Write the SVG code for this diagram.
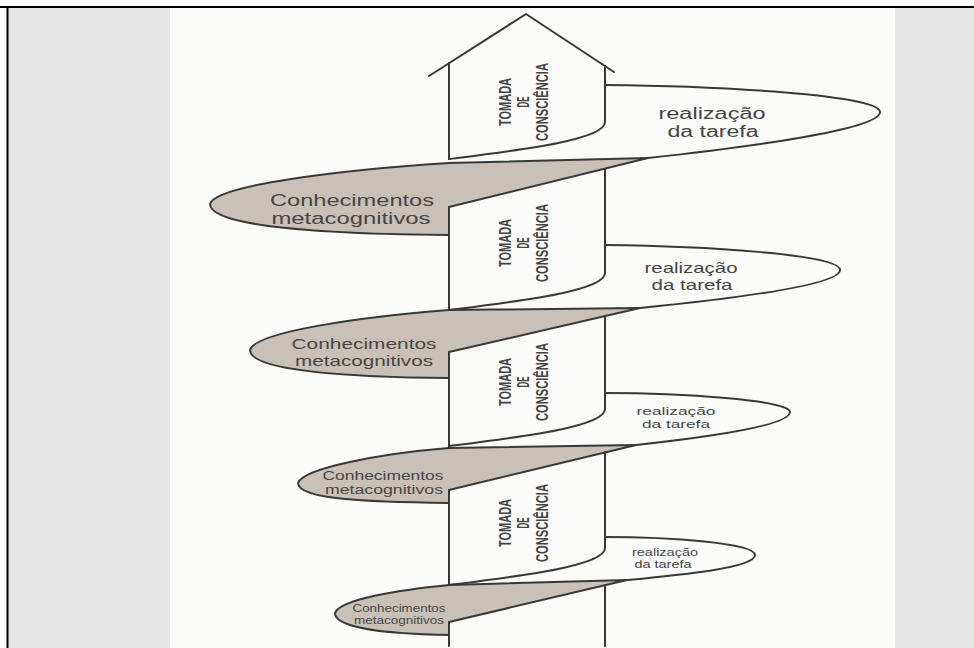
<svg xmlns="http://www.w3.org/2000/svg" width="974" height="648" viewBox="0 0 974 648">
<style>
.ln{fill:none;stroke:#383838;stroke-width:2;stroke-linejoin:round;stroke-linecap:round}
.gr{fill:#c9c1b7;stroke:#383838;stroke-width:2;stroke-linejoin:round}
.tc{font-family:"Liberation Sans",Arial,sans-serif;font-size:16px;font-weight:bold;fill:#444;text-anchor:middle}
.lb{font-family:"Liberation Sans",Arial,sans-serif;fill:#454545;text-anchor:middle}
</style>
<rect width="974" height="648" fill="#ffffff"/>
<rect x="8" y="8" width="162" height="640" fill="#e5e5e5"/>
<rect x="170" y="8" width="725" height="640" fill="#fbfbf9"/>
<rect x="895" y="8" width="79" height="640" fill="#e5e5e5"/>
<line x1="0" y1="7" x2="974" y2="7" stroke="#000" stroke-width="2"/>
<line x1="7.5" y1="6" x2="7.5" y2="648" stroke="#000" stroke-width="2"/>

<g id="meta-1">
<path class="gr" d="M648,158 L449,163 C341,170 215,185 210,204 C210,226 320,234 449,235 L449,207 Z"/>
<text class="lb" font-size="16" x="352" y="206" textLength="164" lengthAdjust="spacingAndGlyphs">Conhecimentos</text>
<text class="lb" font-size="16" x="351" y="224" textLength="159" lengthAdjust="spacingAndGlyphs">metacognitivos</text>
</g>
<g id="meta-2">
<path class="gr" d="M640,308 L449,310 C359,317 255,332 250,350 C250,370 341,377 449,378 L449,352 Z"/>
<text class="lb" font-size="15" x="364" y="349" textLength="145" lengthAdjust="spacingAndGlyphs">Conhecimentos</text>
<text class="lb" font-size="15" x="364" y="366" textLength="138" lengthAdjust="spacingAndGlyphs">metacognitivos</text>
</g>
<g id="meta-3">
<path class="gr" d="M636,445 L449,448 C381,453.5 303,468 298,483 C298,499.5 367,502 449,503 L449,490 Z"/>
<text class="lb" font-size="12" x="383" y="480" textLength="121" lengthAdjust="spacingAndGlyphs">Conhecimentos</text>
<text class="lb" font-size="12" x="384" y="494" textLength="118" lengthAdjust="spacingAndGlyphs">metacognitivos</text>
</g>
<g id="meta-4">
<path class="gr" d="M627,580 L449,585 C398,590 340,599.5 335,613 C335,628 387,634 449,635 L449,622 Z"/>
<text class="lb" font-size="10.5" x="399" y="612" textLength="93" lengthAdjust="spacingAndGlyphs">Conhecimentos</text>
<text class="lb" font-size="10.5" x="399" y="624" textLength="90" lengthAdjust="spacingAndGlyphs">metacognitivos</text>
</g>

<g id="tarefa-1">
<path class="ln" d="M605,85 C720,86 880,95 880,112 C880,130 740,148 648,158"/>
<text class="lb" font-size="16" x="712" y="119" textLength="107" lengthAdjust="spacingAndGlyphs">realização</text>
<text class="lb" font-size="16" x="713" y="137" textLength="91" lengthAdjust="spacingAndGlyphs">da tarefa</text>
</g>
<g id="tarefa-2">
<path class="ln" d="M605,245 C700,246 840,254 840,270 C840,286 720,300 640,308"/>
<text class="lb" font-size="15" x="691" y="273" textLength="93" lengthAdjust="spacingAndGlyphs">realização</text>
<text class="lb" font-size="15" x="692" y="290" textLength="81" lengthAdjust="spacingAndGlyphs">da tarefa</text>
</g>
<g id="tarefa-3">
<path class="ln" d="M605,393 C680,393 790,400 790,412 C790,426 700,438 636,445"/>
<text class="lb" font-size="11.5" x="676" y="415" textLength="79" lengthAdjust="spacingAndGlyphs">realização</text>
<text class="lb" font-size="11.5" x="676" y="428" textLength="68" lengthAdjust="spacingAndGlyphs">da tarefa</text>
</g>
<g id="tarefa-4">
<path class="ln" d="M605,537 C670,537 755,543 755,555 C755,568 680,575 627,580"/>
<text class="lb" font-size="10.5" x="665" y="556" textLength="66" lengthAdjust="spacingAndGlyphs">realização</text>
<text class="lb" font-size="10.5" x="663" y="568" textLength="57" lengthAdjust="spacingAndGlyphs">da tarefa</text>
</g>

<g id="connectors">
<path class="ln" d="M429,76 L526,14 L614,72"/>
<path class="ln" d="M449,63 L449,159"/>
<path class="ln" d="M605,66 L605,122 C605,140 520,150 449,159"/>
<path class="ln" d="M449,207 L449,310"/>
<path class="ln" d="M605,169 L605,273 C605,291 520,301 449,310"/>
<path class="ln" d="M449,352 L449,448"/>
<path class="ln" d="M605,316 L605,409 C605,427 520,437 449,446"/>
<path class="ln" d="M449,490 L449,585"/>
<path class="ln" d="M605,452 L605,548 C605,566 520,576 449,585"/>
<path class="ln" d="M449,622 L449,646"/>
<path class="ln" d="M605,585 L605,646"/>
</g>

<g id="tomada-1" transform="translate(529,102) rotate(-90)">
<text class="tc" x="0" y="-18" textLength="48" lengthAdjust="spacingAndGlyphs">TOMADA</text>
<text class="tc" x="0" y="0" textLength="11" lengthAdjust="spacingAndGlyphs">DE</text>
<text class="tc" x="0" y="19" textLength="78" lengthAdjust="spacingAndGlyphs">CONSCIÊNCIA</text>
</g>
<g id="tomada-2" transform="translate(529,243) rotate(-90)">
<text class="tc" x="0" y="-18" textLength="48" lengthAdjust="spacingAndGlyphs">TOMADA</text>
<text class="tc" x="0" y="0" textLength="11" lengthAdjust="spacingAndGlyphs">DE</text>
<text class="tc" x="0" y="19" textLength="78" lengthAdjust="spacingAndGlyphs">CONSCIÊNCIA</text>
</g>
<g id="tomada-3" transform="translate(529,382) rotate(-90)">
<text class="tc" x="0" y="-18" textLength="48" lengthAdjust="spacingAndGlyphs">TOMADA</text>
<text class="tc" x="0" y="0" textLength="11" lengthAdjust="spacingAndGlyphs">DE</text>
<text class="tc" x="0" y="19" textLength="78" lengthAdjust="spacingAndGlyphs">CONSCIÊNCIA</text>
</g>
<g id="tomada-4" transform="translate(529,523) rotate(-90)">
<text class="tc" x="0" y="-18" textLength="48" lengthAdjust="spacingAndGlyphs">TOMADA</text>
<text class="tc" x="0" y="0" textLength="11" lengthAdjust="spacingAndGlyphs">DE</text>
<text class="tc" x="0" y="19" textLength="78" lengthAdjust="spacingAndGlyphs">CONSCIÊNCIA</text>
</g>
</svg>
